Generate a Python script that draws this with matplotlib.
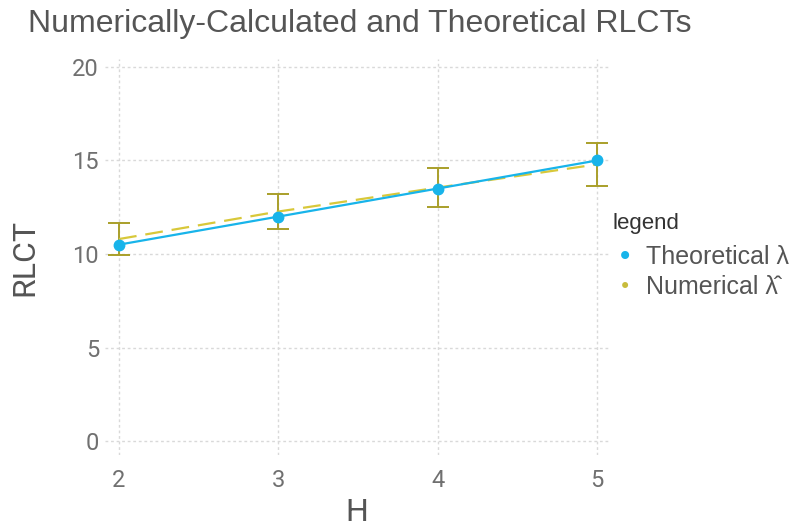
import numpy as np
import matplotlib.pyplot as plt

# Data
H = [2, 3, 4, 5]
theoretical = [10.5, 12.0, 13.5, 15.0]
numerical = [10.8, 12.27, 13.55, 14.79]
numerical_err = [0.85, 0.93, 1.05, 1.15]

fig = plt.figure(figsize=(7.93, 5.31), dpi=100)
ax = fig.add_axes([0.132, 0.143, 0.637, 0.745])

grid_col = '#d9d9d9'
text_col = '#555555'
tick_col = '#707070'

# Numerical estimate with error bars
ax.errorbar(H, numerical, yerr=numerical_err, fmt='none', ecolor='#a99f2a',
            elinewidth=1.4, capsize=8, capthick=1.4, zorder=2)
ax.plot(H, numerical, color='#d8c83a', linestyle=(0, (8, 4)), linewidth=1.6,
        zorder=3)

# Theoretical values
ax.plot(H, theoretical, color='#18b4ea', linewidth=1.6, marker='o',
        markersize=7.5, zorder=4)

ax.set_xlim(1.91, 5.08)
ax.set_ylim(-0.75, 20.4)
ax.set_xticks(H)
ax.set_yticks([0, 5, 10, 15, 20])
ax.grid(True, color=grid_col, linestyle=(0, (2, 2)), linewidth=1)
ax.set_axisbelow(True)
for s in ax.spines.values():
    s.set_visible(False)
ax.tick_params(length=0, labelsize=17, labelcolor=tick_col, pad=4)
ax.tick_params(axis='x', pad=10)
for lab in ax.get_xticklabels() + ax.get_yticklabels():
    lab.set_family('Roboto')

ax.set_xlabel('H', fontsize=23, color=text_col, family='Roboto', labelpad=4)
ax.set_ylabel('RLCT', fontsize=23, color=text_col, family='Roboto', labelpad=24)

fig.text(0.035, 0.955, 'Numerically-Calculated and Theoretical RLCTs',
         fontsize=23, color=text_col, family='Liberation Sans', va='center')

# Legend
fig.text(0.772, 0.58, 'legend', fontsize=16, color='#333333',
         family='Liberation Sans', va='center')
fig.text(0.788, 0.516, '\u2022', fontsize=20, color='#18b4ea', va='center',
         ha='center')
fig.text(0.815, 0.516, 'Theoretical \u03bb', fontsize=18, color=text_col,
         family=['Liberation Sans', 'DejaVu Sans'], va='center')
fig.text(0.788, 0.46, '\u2022', fontsize=15, color='#c8bc3c', va='center',
         ha='center')
fig.text(0.815, 0.46, 'Numerical \u03bb\u0302', fontsize=18, color=text_col,
         family=['Liberation Sans', 'DejaVu Sans'], va='center')

fig.savefig('out.png', dpi=100)
